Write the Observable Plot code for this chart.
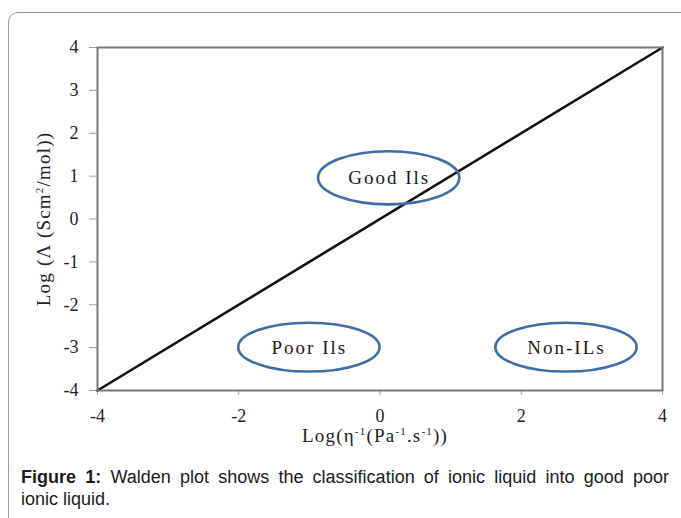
<!DOCTYPE html>
<html>
<head>
<meta charset="utf-8">
<script src="https://cdn.jsdelivr.net/npm/d3@7"></script>
<script src="https://cdn.jsdelivr.net/npm/@observablehq/plot@0.6"></script>
<style>
  html, body { margin: 0; padding: 0; background: #fff; width: 681px; height: 518px; overflow: hidden; }
  #box { position: absolute; left: 8px; top: 12px; width: 720px; height: 600px; border: 1px solid #9a9a9a; border-radius: 10px; box-sizing: border-box; }
  #chart { position: absolute; left: 0; top: 0; }
  .caption { position: absolute; left: 21px; width: 648px; font-family: "Liberation Sans", Arial, sans-serif; font-size: 18px; line-height: 22px; color: #1a1a1a; text-align: justify; white-space: nowrap; }
  #cap1 { top: 466px; text-align-last: justify; white-space: normal; }
  #cap2 { top: 488px; }
  .spaced text { letter-spacing: 2px; }
  .lbl text { letter-spacing: 1.2px; }
</style>
</head>
<body>
<div id="box"></div>
<div id="chart"></div>
<div class="caption" id="cap1"><b>Figure 1:</b> Walden plot shows the classification of ionic liquid into good poor</div>
<div class="caption" id="cap2">ionic liquid.</div>
<script>
// ---- data ----
const xTicks = [-4, -2, 0, 2, 4];
const yTicks = [-4, -3, -2, -1, 0, 1, 2, 3, 4];
const lineX = [-4, 4];
const lineY = [-4, 4];
const regionNames = ["Good Ils", "Poor Ils", "Non-ILs"];
const regionX = [0.13, -1.0, 2.64];
const regionY = [0.95, -3.0, -3.0];
const regionRx = [1.0, 1.0, 1.0];
const regionRy = [0.62, 0.57, 0.57];
const xLabel = "Log(η\u207B\u00B9(Pa\u207B\u00B9.s\u207B\u00B9))";
const yLabel = "Log (\u039B (Scm\u00B2/mol))";

const lineData = lineX.map((x, i) => ({x, y: lineY[i]}));
const regions = regionNames.map((name, i) => ({name, x: regionX[i], y: regionY[i], rx: regionRx[i], ry: regionRy[i]}));

function ellipseMark(index, scales) {
  const {x, y} = scales;
  const g = d3.create("svg:g");
  for (const r of regions) {
    g.append("ellipse")
      .attr("cx", x(r.x))
      .attr("cy", y(r.y))
      .attr("rx", Math.abs(x(r.x + r.rx) - x(r.x)))
      .attr("ry", Math.abs(y(r.y + r.ry) - y(r.y)))
      .attr("fill", "none")
      .attr("stroke", "#3f6ea6")
      .attr("stroke-width", 2.6);
  }
  return g.node();
}

const chart = Plot.plot({
  width: 681,
  height: 455,
  marginLeft: 97,
  marginRight: 19,
  marginTop: 47,
  marginBottom: 65,
  style: {fontFamily: "'Liberation Serif', 'Times New Roman', serif", fontSize: "18px", color: "#222", background: "transparent"},
  x: {domain: [-4, 4]},
  y: {domain: [-4, 4]},
  marks: [
    Plot.axisY(yTicks, {tickSize: 8, tickPadding: 11, tickFormat: d => String(d), stroke: "#a0a0a0", fill: "#222", label: null}),
    Plot.axisX(xTicks, {tickSize: 5, tickPadding: 14, tickFormat: d => String(d), stroke: "#a0a0a0", fill: "#222", label: null}),
    Plot.line(lineData, {x: "x", y: "y", stroke: "#111", strokeWidth: 2.6}),
    ellipseMark,
    Plot.text(regions, {x: "x", y: "y", text: "name", fontSize: 19, fill: "#1a1a1a", className: "spaced"}),
    Plot.frame({stroke: "#777", strokeWidth: 2}),
    Plot.text([xLabel], {text: d => d, frameAnchor: "bottom", dy: 51, dx: -5, fontSize: 19, fill: "#222", textAnchor: "middle", className: "lbl"}),
    Plot.text([yLabel], {text: d => d, frameAnchor: "left", dx: -54, rotate: -90, fontSize: 19, fill: "#222", textAnchor: "middle", className: "lbl"})
  ]
});
document.getElementById("chart").appendChild(chart);

// render superscript characters as small raised text
const supMap = {"\u207B": "-", "\u00B9": "1", "\u00B2": "2"};
chart.querySelectorAll("g.lbl text").forEach(t => {
  const s = t.textContent;
  const parts = s.split(/([\u207B\u00B9\u00B2]+)/).filter(p => p.length);
  while (t.firstChild) t.removeChild(t.firstChild);
  let raised = false;
  for (const p of parts) {
    const isSup = /^[\u207B\u00B9\u00B2]+$/.test(p);
    const ts = document.createElementNS("http://www.w3.org/2000/svg", "tspan");
    if (isSup) {
      ts.textContent = [...p].map(c => supMap[c]).join("");
      ts.setAttribute("font-size", "11");
      ts.setAttribute("dy", "-7");
      raised = true;
    } else {
      ts.textContent = p;
      if (raised) { ts.setAttribute("dy", "7"); raised = false; }
    }
    t.appendChild(ts);
  }
});
</script>
</body>
</html>
